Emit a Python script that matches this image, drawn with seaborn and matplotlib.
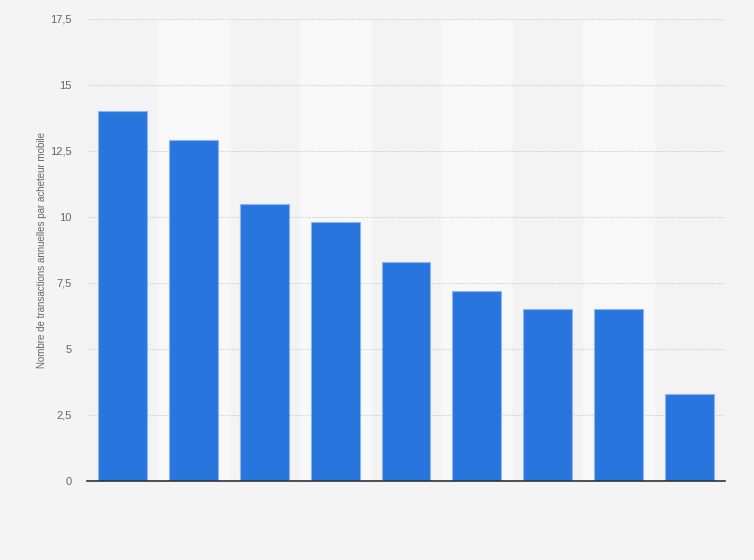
import seaborn as sns
import matplotlib.pyplot as plt
import pandas as pd

categories = ["1", "2", "3", "4", "5", "6", "7", "8", "9"]
values = [14.0, 12.9, 10.5, 9.8, 8.3, 7.2, 6.5, 6.5, 3.3]
y_ticks = [0, 2.5, 5, 7.5, 10, 12.5, 15, 17.5]
y_label = "Nombre de transactions annuelles par acheteur mobile"

df = pd.DataFrame({"cat": categories, "val": values})

sns.set_style("white")
plt.rcParams['font.family'] = ['Liberation Sans', 'DejaVu Sans']

fig = plt.figure(figsize=(7.54, 5.6), dpi=100, facecolor="#f4f4f4")
ax = fig.add_axes([87 / 754, 79 / 560, 638 / 754, 462 / 560])
ax.set_facecolor("#f3f3f3")

# lighter bands behind every second category
for i in range(len(categories)):
    if i % 2 == 1:
        ax.axvspan(i - 0.5, i + 0.5, color="#f8f8f8", zorder=0)

sns.barplot(data=df, x="cat", y="val", ax=ax, color="#2876dd", saturation=1,
            width=0.69, edgecolor="#8db4ee", linewidth=0.8, zorder=3)

ax.set_xlim(-0.5, len(categories) - 0.5)
ax.set_ylim(0, 17.5)
ax.set_yticks(y_ticks)
ax.set_yticklabels([f"{t:g}".replace(".", ",") for t in y_ticks], color="#666666", fontsize=8)
ax.tick_params(axis="y", length=0, pad=11)
ax.tick_params(axis="x", length=0, labelbottom=False)
ax.set_xlabel("")
ax.set_ylabel(y_label, color="#666666", fontsize=7, labelpad=2.5)
ax.yaxis.grid(True, color="#cfcfcf", linestyle=(0, (1, 1)), linewidth=0.8, zorder=1)
ax.set_axisbelow(True)

sns.despine(ax=ax, left=True, top=True, right=True)
ax.spines["bottom"].set_color("#333333")
ax.spines["bottom"].set_linewidth(1.2)
ax.spines["bottom"].set_zorder(5)

fig.savefig("out.png", dpi=100, facecolor=fig.get_facecolor())
